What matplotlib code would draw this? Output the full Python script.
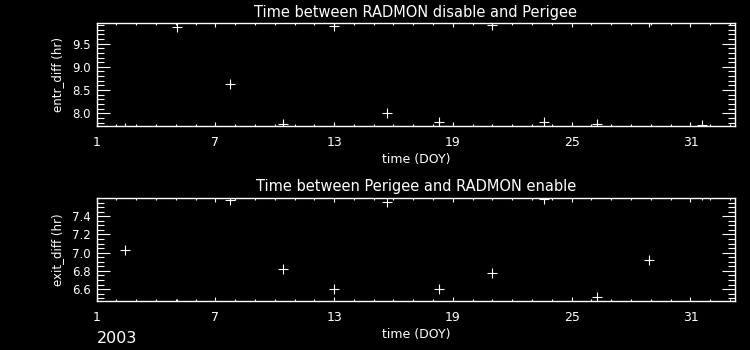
# -*- coding: utf-8 -*-
## RADMON disable/enable vs. perigee timing (2003)
import matplotlib
matplotlib.use("Agg")
import matplotlib.pyplot as plt
from matplotlib.ticker import FixedLocator, MultipleLocator

# day of year for each perigee pass
doy = [2.44, 5.08, 7.76, 10.4, 13.0, 15.69, 18.3, 20.96, 23.6, 26.26, 28.9, 31.56]
# hours between RADMON disable and perigee
entr_diff = [7.69, 9.86, 8.64, 7.77, 9.87, 8.01, 7.81, 9.89, 7.81, 7.77, 9.97, 7.75]
# hours between perigee and RADMON enable
exit_diff = [7.03, 6.44, 7.58, 6.82, 6.60, 7.56, 6.60, 6.78, 7.588, 6.51, 6.92, 7.63]

x_ticks = [1, 7, 13, 19, 25, 31]

fig = plt.figure(figsize=(7.5, 3.5), dpi=100, facecolor="black")


def draw_panel(rect, y, title, ylabel, ylim, ymajor, yminor):
    ax = fig.add_axes(rect, facecolor="black")
    ax.plot(doy, y, linestyle="none", marker="+", color="white",
            markersize=7.5, markeredgewidth=0.8, clip_on=True)
    ax.set_xlim(1, 33.25)
    ax.set_ylim(*ylim)
    ax.xaxis.set_major_locator(FixedLocator(x_ticks))
    ax.xaxis.set_minor_locator(MultipleLocator(1))
    ax.yaxis.set_major_locator(MultipleLocator(ymajor))
    ax.yaxis.set_minor_locator(MultipleLocator(yminor))
    for s in ax.spines.values():
        s.set_color("white")
        s.set_linewidth(1.0)
    ax.tick_params(axis="both", which="both", direction="in", colors="white",
                   top=True, right=True, width=0.8)
    ax.tick_params(axis="x", which="major", length=3, pad=7, labelsize=9)
    ax.tick_params(axis="x", which="minor", length=1.5)
    ax.tick_params(axis="y", which="major", length=9.5, pad=4, labelsize=8.5)
    ax.tick_params(axis="y", which="minor", length=5)
    ax.set_title(title, color="white", fontsize=10.5, pad=5)
    ax.set_xlabel("time (DOY)", color="white", fontsize=9, labelpad=3)
    ax.set_ylabel(ylabel, color="white", fontsize=8.5, labelpad=6)
    return ax


draw_panel([0.1287, 0.64, 0.8513, 0.2929], entr_diff,
           "Time between RADMON disable and Perigee", "entr_diff (hr)",
           (7.73, 9.93), 0.5, 0.1)
draw_panel([0.1287, 0.14, 0.8513, 0.2934], exit_diff,
           "Time between Perigee and RADMON enable", "exit_diff (hr)",
           (6.47, 7.597), 0.2, 0.05)

fig.text(0.129, 0.02, "2003", color="white", fontsize=11.5)

fig.savefig("out.png", dpi=100, facecolor="black")
